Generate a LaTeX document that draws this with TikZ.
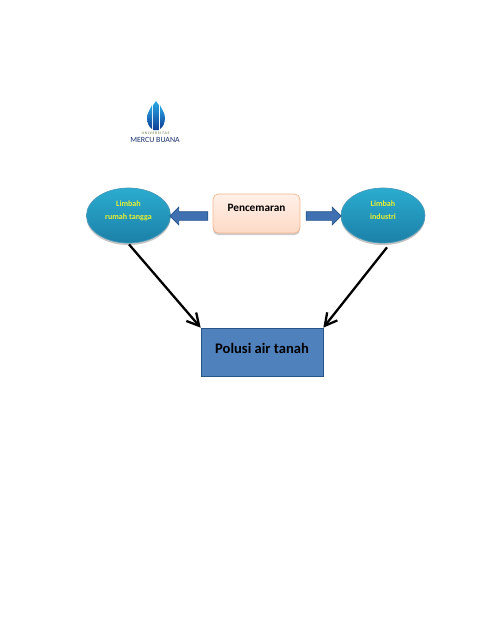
\documentclass[tikz,border=0pt]{standalone}
\usepackage{fontspec}
\setmainfont{Carlito}
\usetikzlibrary{arrows.meta,shapes.geometric,shapes.arrows,shadows}
\definecolor{tealtop}{RGB}{43,172,207}
\definecolor{tealbot}{RGB}{28,128,168}
\definecolor{boxblue}{RGB}{79,129,189}
\definecolor{arrowblue}{RGB}{62,112,178}
\definecolor{boxedge}{RGB}{40,85,135}
\definecolor{peachtop}{RGB}{255,240,232}
\definecolor{peachbot}{RGB}{253,218,198}
\definecolor{peachedge}{RGB}{245,180,140}
\definecolor{limetext}{RGB}{230,240,50}
\definecolor{logocyan}{RGB}{40,170,230}
\definecolor{logoblue}{RGB}{15,60,150}
\definecolor{logonavy}{RGB}{25,50,110}
\definecolor{logosage}{RGB}{140,160,110}
\tikzset{
  wastenode/.style={ellipse,draw=tealbot!80,top color=tealtop,bottom color=tealbot,
    minimum width=1.68cm,minimum height=1.1cm,inner sep=0pt,align=center,
    font=\fontsize{4.6}{7}\selectfont\bfseries,text=limetext,text depth=6pt,
    drop shadow={shadow xshift=0pt,shadow yshift=-1.2pt,fill=black!45}},
  sourcebox/.style={draw=peachedge,top color=peachtop,bottom color=peachbot,rounded corners=3pt,
    minimum width=1.74cm,minimum height=0.78cm,inner sep=0pt,text depth=7pt,
    font=\fontsize{6.4}{8}\selectfont\bfseries,
    drop shadow={shadow xshift=0pt,shadow yshift=-1.2pt,fill=black!40}},
  resultbox/.style={draw=boxedge,fill=boxblue,minimum width=2.44cm,minimum height=0.96cm,
    inner sep=0pt,text depth=3.6pt,font=\fontsize{8.3}{10}\selectfont\bfseries},
  blockarrow/.style={single arrow,draw=boxedge,fill=arrowblue,minimum height=0.74cm,
    minimum width=0.34cm,text height=0.16cm,text width=0pt,single arrow head extend=0.09cm,
    inner sep=0pt,line width=0.4pt},
  impactarrow/.style={-{Straight Barb[length=2.4mm,width=2.6mm]},line width=1.3pt,draw=black},
  logostripe/.style={top color=logocyan,bottom color=logoblue,draw=none},
}
\begin{document}
\begin{tikzpicture}[x=0.02cm,y=-0.02cm]
  \useasboundingbox (0,0) rectangle (495,640);
  % logo
  \path[logostripe] (147,118) .. controls (147,113) and (150,110) .. (152,105) -- (152,129) .. controls (149,127) and (147,123) .. (147,118) -- cycle;
  \path[logostripe] (153.2,105) -- (156,101) -- (158.8,105) -- (158.8,130) -- (153.2,130) -- cycle;
  \path[logostripe] (160,105) .. controls (162,110) and (165,113) .. (165,118) .. controls (165,123) and (163,127) .. (160,129) -- cycle;
  \node[font=\fontsize{2.2}{3}\selectfont\bfseries,text=logosage] (logotop) at (155.5,133) {U\,N\,I\,V\,E\,R\,S\,I\,T\,A\,S};
  \node[font=\fontsize{4.5}{6}\selectfont,text=logonavy] (logoname) at (155,139.5) {MERCU BUANA};
  % diagram
  \node[wastenode] (home) at (128.5,215.5) {Limbah\\rumah tangga};
  \node[wastenode] (industry) at (383,215.5) {Limbah\\industri};
  \node[sourcebox] (source) at (256.5,213.5) {Pencemaran};
  \node[resultbox] (result) at (262,352) {Polusi air tanah};
  \node[blockarrow,shape border rotate=180,minimum height=0.76cm] (toleft) at (191,216) {};
  \node[blockarrow,minimum height=0.7cm] (toright) at (321.5,216) {};
  \draw[impactarrow] (home.south) ++(0.5,1) -- (result.north west);
  \draw[impactarrow] (industry.south) ++(4,4) -- (result.north east);
\end{tikzpicture}
\end{document}
